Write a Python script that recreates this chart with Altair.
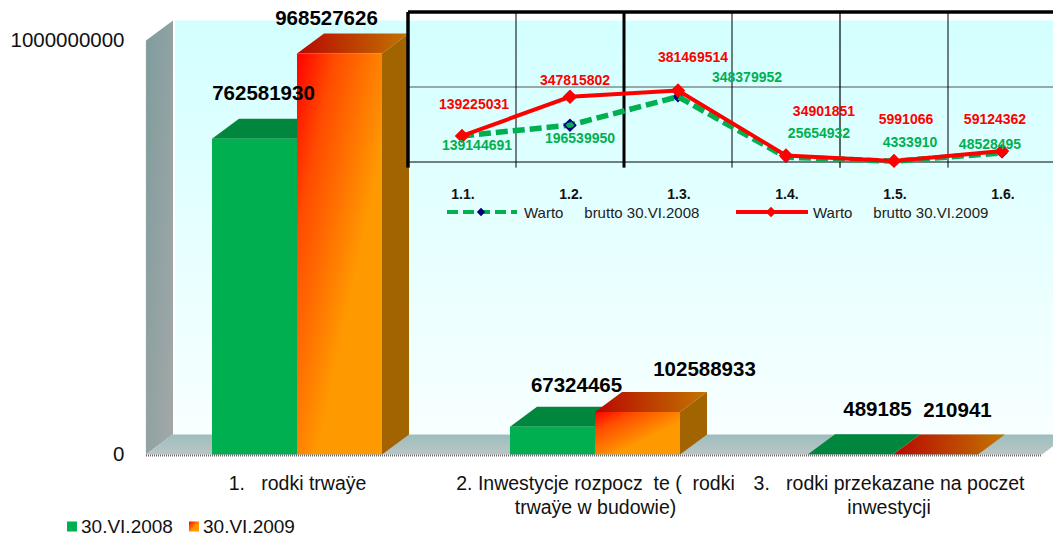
import altair as alt
import pandas as pd

NB = "\u00a0"
# ---- data
bar_values_2008 = [762581930, 67324465, 489185]
bar_values_2009 = [968527626, 102588933, 210941]
bar_labels = [
    ["1." + NB * 3 + "rodki trwaÿe"],
    ["2. Inwestycje rozpocz" + NB * 2 + "te (" + NB * 2 + "rodki", "trwaÿe w budowie)"],
    ["3." + NB * 3 + "rodki przekazane na poczet", "inwestycji"],
]
bar_ticks = [0, 1000000000]
inset_cats = ["1.1.", "1.2.", "1.3.", "1.4.", "1.5.", "1.6."]
inset_2008 = [139144691, 196539950, 348379952, 25654932, 4333910, 48528495]
inset_2009 = [139225031, 347815802, 381469514, 34901851, 5991066, 59124362]
names = ["30.VI.2008", "30.VI.2009"]
inset_names = ["Warto" + NB * 4 + " brutto 30.VI.2008", "Warto" + NB * 4 + " brutto 30.VI.2009"]

# ---- layout constants
LEFT, TOP = 146, 8
W, H = 907, 450
PXX = 298.0           # pixels per category
PXY = 414.0 / 1e9     # pixels per unit
D = 27 / PXX          # 3-D depth in x units
E = 20 / PXY          # 3-D depth in y units
BW = 85 / PXX

x_dom = [-2 / PXX, (W - 2) / PXX]
y_dom = [-(TOP + H - 454.5) / PXY, (454.5 - TOP) / PXY]
XS = alt.Scale(domain=x_dom, nice=False, zero=False)
YS = alt.Scale(domain=y_dom, nice=False, zero=False)

label_expr = "[" + ",".join(
    "[" + ",".join("'" + t + "'" for t in lines) + "]" for lines in bar_labels
) + "][floor(datum.value)]"
X_AXIS = alt.Axis(
    values=[0.5, 1.5, 2.485], labelExpr=label_expr, title=None, domain=False, ticks=False,
    grid=False, labelFontSize=19.5, labelFont="Liberation Sans", labelColor="#111111",
    labelPadding=25, labelOverlap=False, labelLimit=400, labelLineHeight=24, labelBaseline="middle")
Y_AXIS = alt.Axis(
    values=bar_ticks, format="d", title=None, domain=False, ticks=False, grid=False,
    labelFontSize=20.5, labelFont="Liberation Sans", labelColor="#111111", labelPadding=22,
    labelOverlap=False)
X = alt.X("x:Q", scale=XS, axis=X_AXIS)
Y = alt.Y("y:Q", scale=YS, axis=Y_AXIS)

IX = alt.Scale(domain=[0, 6], range=[408 - LEFT, 1056 - LEFT], nice=False, zero=False)
IY = alt.Scale(domain=[0, 800000000], range=[162 - TOP, 12 - TOP], nice=False, zero=False)
IXE = alt.X("x:Q", scale=IX, axis=None)
IYE = alt.Y("y:Q", scale=IY, axis=None)


def grad(c1, c2, x2=1, y2=0, stops=None):
    st = stops or [(0, c1), (1, c2)]
    return alt.Gradient(
        gradient="linear", x1=0, y1=0, x2=x2, y2=y2,
        stops=[alt.GradientStop(offset=o, color=c) for o, c in st],
    )


def parallelogram(rows, fill):
    """Receding flat face: rows of (id, a, b, v)."""
    out = []
    for g, a, b, v in rows:
        out += [
            dict(g=g, x=a, y=v, y2=v),
            dict(g=g, x=a + D, y=v + E, y2=v),
            dict(g=g, x=b, y=v + E, y2=v),
            dict(g=g, x=b + D, y=v + E, y2=v + E),
        ]
    return alt.Chart(pd.DataFrame(out)).mark_area(fill=fill, orient="vertical").encode(
        x=X, y=Y, y2="y2:Q", detail="g:N")


def side(rows, fill):
    """Receding upright face: rows of (id, b, v, base)."""
    out = []
    for g, b, v, base in rows:
        out += [dict(g=g, x=b, y=v, y2=base), dict(g=g, x=b + D, y=v + E, y2=base + E)]
    return alt.Chart(pd.DataFrame(out)).mark_area(fill=fill, orient="vertical").encode(
        x=X, y=Y, y2="y2:Q", detail="g:N")


main = []

# back wall
wall = pd.DataFrame([dict(x=D, x2=x_dom[1] + D, y=E, y2=1e9 + E)])
main.append(alt.Chart(wall).mark_rect(fill=grad("#D3FFFF", "#F8FFFF", 0, 1)).encode(
    x=X, x2="x2:Q", y=Y, y2="y2:Q"))
# side wall and floor
main.append(side([("w", x_dom[0], 1e9, 0)], grad("#7F9C9D", "#A4A8A8", 1, 1)))
main.append(parallelogram([("f", x_dom[0], 3.0, 0)], grad("#9DBEBE", "#BAC5C5", 0, 1)))

# bars
centres = [i + 0.5 for i in range(3)]
TOP_G = "#00873D"
main.append(parallelogram(
    [(i, c - BW, c, v) for i, (c, v) in enumerate(zip(centres, bar_values_2008))], TOP_G))
front_g = pd.DataFrame([dict(x=c - BW, x2=c, y=0, y2=v) for c, v in zip(centres, bar_values_2008)])
main.append(alt.Chart(front_g).mark_rect(fill="#00B050").encode(x=X, x2="x2:Q", y=Y, y2="y2:Q"))
main.append(parallelogram(
    [(i, c, c + BW, v) for i, (c, v) in enumerate(zip(centres, bar_values_2009))],
    grad("#B80800", "#C27500", 1, 0)))
main.append(side(
    [(i, c + BW, v, 0) for i, (c, v) in enumerate(zip(centres[:2], bar_values_2009[:2]))], "#A26400"))
front_o = pd.DataFrame([dict(g=i, x=c, x2=c + BW, y=0, y2=v)
                        for i, (c, v) in enumerate(zip(centres, bar_values_2009))])
main.append(alt.Chart(front_o).mark_rect(
    fill=grad("", "", 1, 1, [(0, "#FF0000"), (0.22, "#FF4A00"), (0.62, "#FF9900"), (1, "#FF9900")])
).encode(x=X, x2="x2:Q", y=Y, y2="y2:Q", detail="g:N"))

# dotted edges
edge = pd.DataFrame([dict(x=x_dom[0], x2=3.0, y=0)])
main.append(alt.Chart(edge).mark_rule(color="#666666", strokeDash=[1, 1], strokeWidth=2, yOffset=1).encode(
    x=X, x2="x2:Q", y=Y))
edge2 = pd.DataFrame([dict(x=x_dom[0], y=0, y2=1e9)])
main.append(alt.Chart(edge2).mark_rule(color="#B8B8B8", strokeDash=[1, 2], strokeWidth=1).encode(
    x=X, y=Y, y2="y2:Q"))

# bar value labels: (x centre, value, dx, dy)
bar_text = [
    (centres[0] - BW / 2, bar_values_2008[0], 9, -45),
    (centres[0] + BW / 2, bar_values_2009[0], -13, -35),
    (centres[1] - BW / 2, bar_values_2008[1], 24, -41),
    (centres[1] + BW / 2, bar_values_2009[1], 67, -42),
    (centres[2] - BW / 2, bar_values_2008[2], 27, -44),
    (centres[2] + BW / 2, bar_values_2009[2], 22, -43),
]
for xc, v, dx, dy in bar_text:
    d = pd.DataFrame([dict(x=xc, y=v, t=str(v))])
    main.append(alt.Chart(d).mark_text(
        dx=dx, dy=dy, font="Liberation Sans", fontSize=20.5, fontWeight="bold", color="#000000"
    ).encode(x=X, y=Y, text="t:N"))

# ---- inset
inset = []

# bottom legend
LEG_Y = 526.5 - TOP
inset.append(alt.Chart(pd.DataFrame([{"a": 1}])).mark_rect(fill="#00B050").encode(
    x=alt.value(67 - LEFT), x2=alt.value(77 - LEFT), y=alt.value(LEG_Y - 5), y2=alt.value(LEG_Y + 5)))
inset.append(alt.Chart(pd.DataFrame([{"a": 1}])).mark_rect(
    fill=grad("", "", 1, 1, [(0, "#FF0000"), (0.6, "#FF9900"), (1, "#FF9900")])
).encode(x=alt.value(189 - LEFT), x2=alt.value(199 - LEFT), y=alt.value(LEG_Y - 5), y2=alt.value(LEG_Y + 5)))
for name, px in zip(names, [81, 203]):
    inset.append(alt.Chart(pd.DataFrame([{"t": name}])).mark_text(
        align="left", baseline="middle", font="Liberation Sans", fontSize=19, color="#111111"
    ).encode(x=alt.value(px - LEFT), y=alt.value(LEG_Y), text="t:N"))

grid_h = pd.DataFrame([dict(x=0, x2=6, y=400000000)])
inset.append(alt.Chart(grid_h).mark_rule(color="#555555", strokeWidth=1).encode(x=IXE, x2="x2:Q", y=IYE))
base = pd.DataFrame([dict(x=0, x2=6, y=0)])
inset.append(alt.Chart(base).mark_rule(color="#000000", strokeWidth=1.2).encode(x=IXE, x2="x2:Q", y=IYE))
top_line = pd.DataFrame([dict(x=0, x2=6.05, y=800000000)])
inset.append(alt.Chart(top_line).mark_rule(color="#000000", strokeWidth=3.5).encode(x=IXE, x2="x2:Q", y=IYE))
for idx, sw in [(0, 3.5), (1, 1), (2, 3), (3, 1), (4, 1.2), (5, 1), (6, 1.5)]:
    v = pd.DataFrame([dict(x=idx, y=800000000, y2=-30000000)])
    inset.append(alt.Chart(v).mark_rule(color="#000000", strokeWidth=sw).encode(x=IXE, y=IYE, y2="y2:Q"))

pos = [i + 0.5 for i in range(6)]
df08 = pd.DataFrame({"x": pos, "y": inset_2008})
df09 = pd.DataFrame({"x": pos, "y": inset_2009})
inset.append(alt.Chart(df08).mark_point(shape="diamond", filled=True, size=130, color="#00007F", opacity=1).encode(x=IXE, y=IYE))
inset.append(alt.Chart(df08).mark_line(color="#00B050", strokeWidth=5.5, strokeDash=[12, 5]).encode(x=IXE, y=IYE))
inset.append(alt.Chart(df08.iloc[[1]]).mark_point(shape="diamond", filled=False, size=130, color="#00007F", strokeWidth=1.5, opacity=1).encode(x=IXE, y=IYE))
inset.append(alt.Chart(df09).mark_line(color="#FF0000", strokeWidth=4).encode(x=IXE, y=IYE))
inset.append(alt.Chart(df09).mark_point(shape="diamond", filled=True, size=210, color="#FF0000", opacity=1).encode(x=IXE, y=IYE))

red_off = [(12, -31), (5, -16), (15, -32), (38, -43), (12, -41), (-7, -31)]
green_off = [(15, 10), (10, 14), (69, -19), (33, -23), (16, -18), (-12, -8)]
for series, offs, colr in [(inset_2009, red_off, "#FF0000"), (inset_2008, green_off, "#00B050")]:
    for p, v, (dx, dy) in zip(pos, series, offs):
        d = pd.DataFrame([dict(x=p, y=v, t=str(v))])
        inset.append(alt.Chart(d).mark_text(
            dx=dx, dy=dy, font="Liberation Sans", fontSize=14, fontWeight="bold", color=colr
        ).encode(x=IXE, y=IYE, text="t:N"))
for p, c in zip(pos, inset_cats):
    d = pd.DataFrame([dict(x=p, y=0, t=c)])
    inset.append(alt.Chart(d).mark_text(
        dy=33, dx=1, font="Liberation Sans", fontSize=14, fontWeight="bold", color="#111111"
    ).encode(x=IXE, y=IYE, text="t:N"))

# inset legend
LY = 212 - TOP
inset.append(alt.Chart(pd.DataFrame([{"a": 1}])).mark_rule(color="#00B050", strokeWidth=4, strokeDash=[11, 5]).encode(
    x=alt.value(447 - LEFT), x2=alt.value(517 - LEFT), y=alt.value(LY)))
inset.append(alt.Chart(pd.DataFrame([{"a": 1}])).mark_point(shape="diamond", filled=True, size=70, color="#00007F", opacity=1).encode(
    x=alt.value(481 - LEFT), y=alt.value(LY)))
inset.append(alt.Chart(pd.DataFrame([{"a": 1}])).mark_rule(color="#FF0000", strokeWidth=4).encode(
    x=alt.value(736 - LEFT), x2=alt.value(808 - LEFT), y=alt.value(LY)))
inset.append(alt.Chart(pd.DataFrame([{"a": 1}])).mark_point(shape="diamond", filled=True, size=110, color="#FF0000", opacity=1).encode(
    x=alt.value(771 - LEFT), y=alt.value(LY)))
for name, px in zip(inset_names, [524, 813]):
    inset.append(alt.Chart(pd.DataFrame([{"t": name}])).mark_text(
        align="left", baseline="middle", font="Liberation Sans", fontSize=15, color="#222222"
    ).encode(x=alt.value(px - LEFT), y=alt.value(LY + 1), text="t:N"))

chart = alt.layer(alt.layer(*main), alt.layer(*inset)).resolve_scale(
    x="independent", y="independent"
).properties(
    width=W, height=H, background="white",
    padding={"left": LEFT - 8, "top": 0, "right": 0, "bottom": 80},
    autosize=alt.AutoSizeParams(type="none"),
).configure_view(stroke=None)

chart.save("out.html", embed_options={"renderer": "svg", "actions": False})
